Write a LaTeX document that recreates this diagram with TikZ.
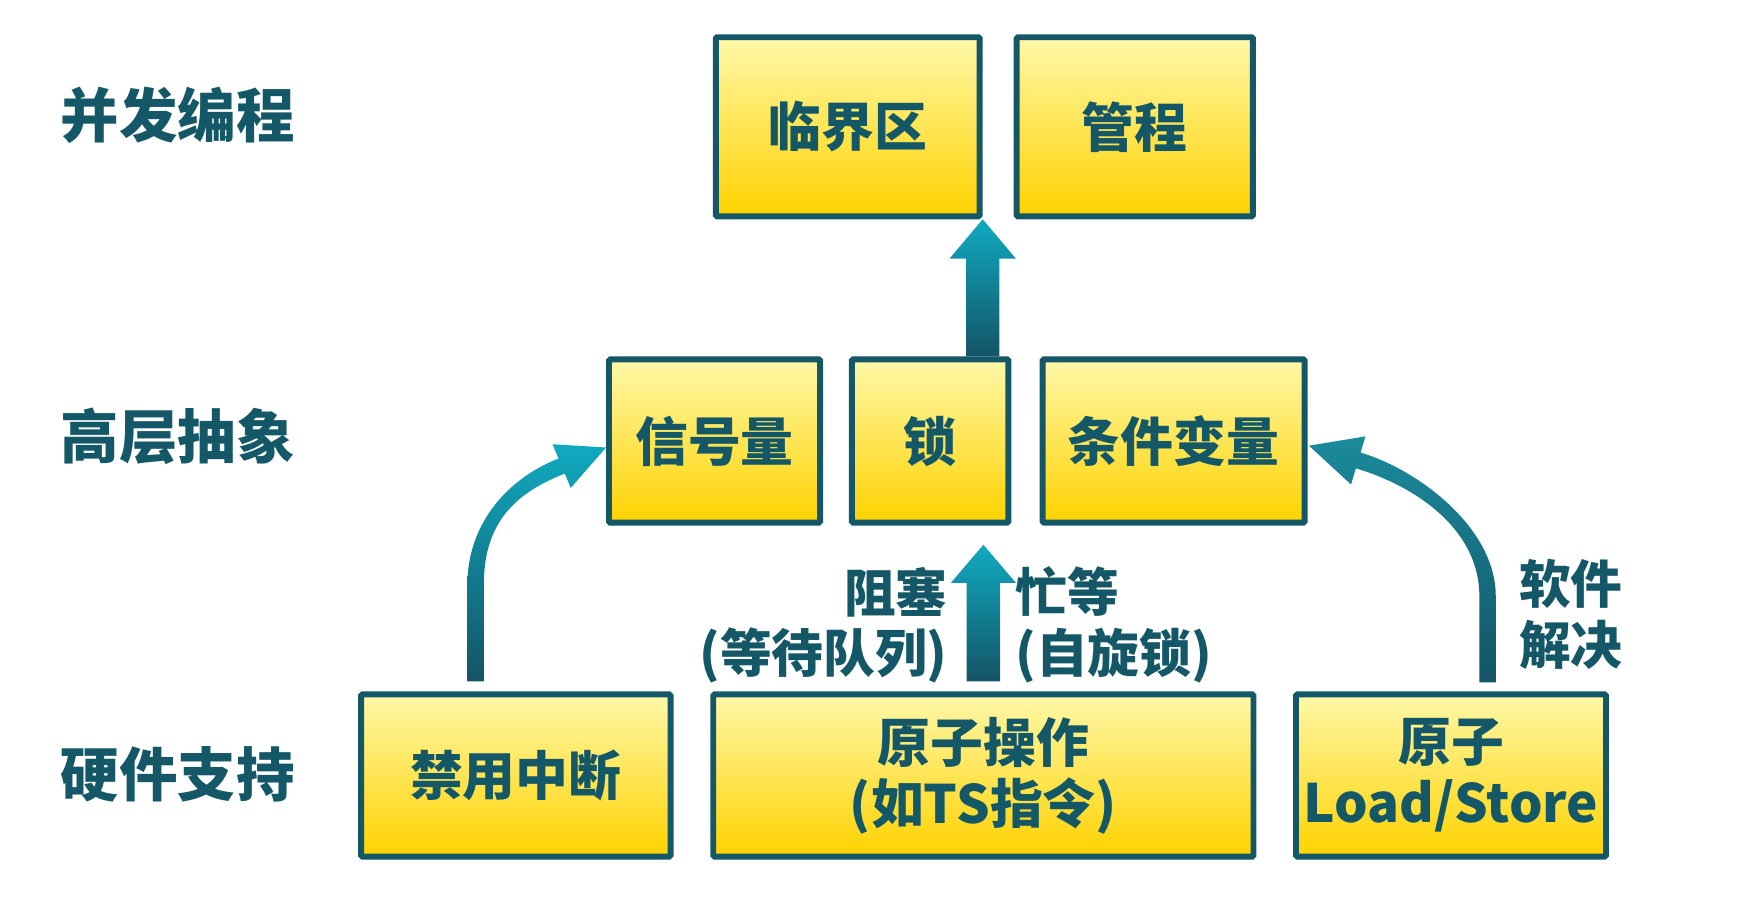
\documentclass[tikz,border=0pt]{standalone}
\usepackage{fontspec}
\setmainfont{Noto Sans CJK SC}[BoldFont={* Black}]
\usetikzlibrary{calc}
\definecolor{tealdk}{HTML}{145868}
\definecolor{ytop}{HTML}{FFF8A8}
\definecolor{ybot}{HTML}{FFD200}
\definecolor{atop}{HTML}{10AAC0}
\definecolor{abot}{HTML}{145466}
\definecolor{atopb}{HTML}{1A8B9C}
\begin{document}
\begin{tikzpicture}[x=1pt,y=-1pt,
  box/.style={draw=tealdk, line width=5.3pt, top color=ytop, bottom color=ybot,
    text=tealdk, font=\bfseries\fontsize{47}{54}\selectfont, align=center,
    inner sep=0pt, rounded corners=1.2pt},
  lab/.style={text=tealdk, font=\bfseries\fontsize{52}{60}\selectfont, anchor=west, inner sep=0pt},
  note/.style={text=tealdk, font=\bfseries\fontsize{46}{54}\selectfont, inner sep=0pt},
  ashade/.style={top color=atop, bottom color=abot, draw=none},
  ashadeb/.style={top color=atopb, bottom color=abot, draw=none}]
\useasboundingbox (0,0) rectangle (1568,799.6);
% left labels
\node[lab] (l1) at (54,102.5) {并发编程};
\node[lab] (l2) at (54,388) {高层抽象};
\node[lab] (l3) at (54,689) {硬件支持};
% boxes
\node[box, minimum width=234.7, minimum height=159.2] (crit) at (754,112.75) {临界区};
\node[box, minimum width=210.2, minimum height=159.2] (mon) at (1009.25,112.75) {管程};
\node[box, minimum width=187.7, minimum height=145.2] (sem) at (635.5,392.25) {信号量};
\node[box, minimum width=139.2, minimum height=145.2] (lock) at (827.25,392.25) {锁};
\node[box, minimum width=233.1, minimum height=145.2] (cond) at (1043.8,392.25) {条件变量};
\node[box, minimum width=275.2, minimum height=144.2] (dis) at (458.75,689.75) {禁用中断};
\node[box, minimum width=480.5, minimum height=144.2] (atom) at (874.6,689.75) {原子操作\\(如TS指令)};
\node[box, minimum width=275.7, minimum height=144.2] (ls) at (1290.5,689.75) {原子\\Load/Store};
% top straight arrow: lock -> critical section
\coordinate (ta) at (crit.south east);
\coordinate (tb) at (crit.south east |- lock.north);
\shade[ashade] ($(tb)+(-14.8,0)$) -- ($(ta)+(-14.8,35)$) -- ($(ta)+(-29.5,35)$) -- (ta)
  -- ($(ta)+(29.5,35)$) -- ($(ta)+(14.8,35)$) -- ($(tb)+(14.8,0)$) -- cycle;
% middle straight arrow: atomic ops -> lock
\coordinate (mb) at ($(atom.north)+(0,-9)$);
\coordinate (mt) at ($(atom.north)+(0,-130.5)$);
\shade[ashade] ($(mb)+(-14.8,0)$) -- ($(mt)+(-14.8,34)$) -- ($(mt)+(-29,34)$) -- (mt)
  -- ($(mt)+(29,34)$) -- ($(mt)+(14.8,34)$) -- ($(mb)+(14.8,0)$) -- cycle;
% left curved arrow: disable interrupts -> semaphore
\shade[ashade] (415.7,606) -- (415.7,520) .. controls (415.7,465) and (452.2,425.3) .. (496.7,407.8)
  -- (491.4,395.1) -- (539,398) -- (507.6,433.9) -- (502.3,421.2)
  .. controls (457.8,438.7) and (430.3,465) .. (430.3,520) -- (430.3,606) -- cycle;
% right curved arrow: atomic load/store -> condition variable
\shade[ashadeb] (1315.7,607) -- (1315.7,530) .. controls (1315.7,470) and (1257.9,432) .. (1205.9,416.5)
  -- (1201.6,430.9) -- (1164.2,396.4) -- (1214.4,388.1) -- (1210.1,402.5)
  .. controls (1262.1,418) and (1330.3,470) .. (1330.3,530) -- (1330.3,607) -- cycle;
% labels
\node[note, anchor=east, align=right] (blk) at (843,556) {阻塞\\(等待队列)};
\node[note, anchor=west, align=left] (busy) at (903,556) {忙等\\(自旋锁)};
\node[note, anchor=west, align=left] (soft) at (1351,546.5) {软件\\解决};
\end{tikzpicture}
\end{document}
